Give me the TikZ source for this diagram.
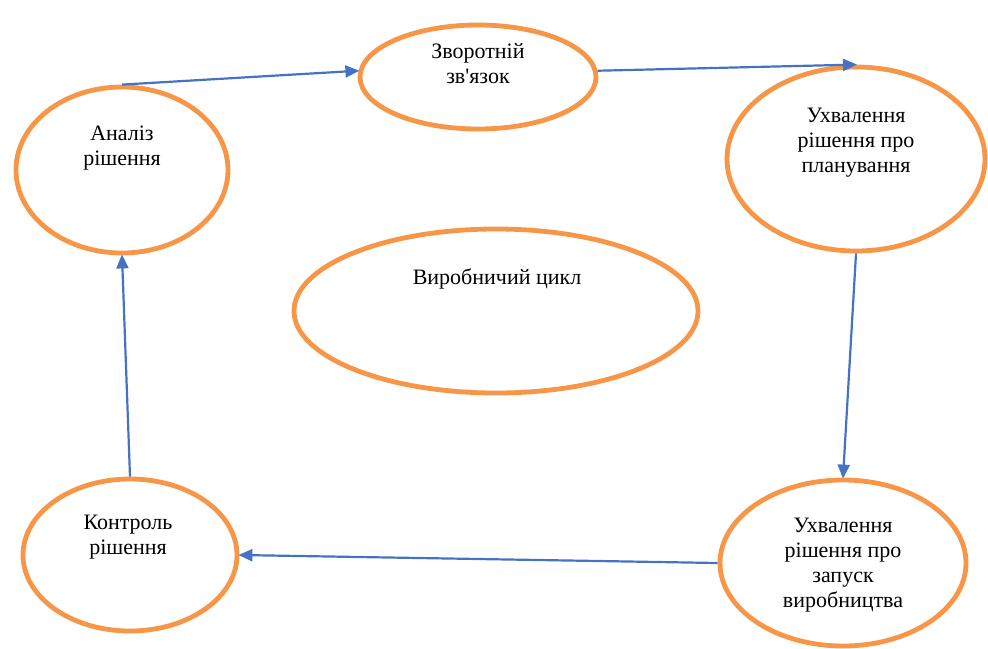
\documentclass[tikz,border=0pt]{standalone}
\usepackage{fontspec}
\setmainfont{Liberation Serif}[Ligatures=TeXOff]
\usepackage{tikz}
\usetikzlibrary{shapes.geometric, arrows.meta, positioning}
\definecolor{ovalcolor}{RGB}{247, 150, 70}
\definecolor{linkcolor}{RGB}{68, 114, 196}

\begin{document}
\begin{tikzpicture}[
    x=0.5pt, y=-0.5pt,
    oval/.style={ellipse, draw=ovalcolor, line width=2.4pt, fill=white, inner sep=0pt},
    txt/.style={align=center, font=\fontsize{11}{12.5}\selectfont, inner sep=0pt},
    link/.style={-{Triangle[width=6pt, length=7pt]}, draw=linkcolor, line width=1.1pt, shorten >=-0.5pt},
]
    \useasboundingbox (0,0) rectangle (988,648);
    % ovals
    \node[oval, minimum width=118pt, minimum height=52pt] (fb) at (478,77) {};
    \node[oval, minimum width=106pt, minimum height=83pt] (an) at (122,170) {};
    \node[oval, minimum width=129pt, minimum height=92pt] (pl) at (856,159) {};
    \node[oval, minimum width=202pt, minimum height=82pt] (vc) at (496,311) {};
    \node[oval, minimum width=107pt, minimum height=76pt] (ko) at (130,555) {};
    \node[oval, minimum width=123pt, minimum height=83pt] (zp) at (843,563) {};
    % texts
    \node[txt] (fbt) at (478,64) {Зворотній\\зв'язок};
    \node[txt] (ant) at (122,148) {Аналіз\\рішення};
    \node[txt] (plt) at (856,143) {Ухвалення\\рішення про\\планування};
    \node[txt] (vct) at (497,279) {Виробничий цикл};
    \node[txt] (kot) at (128,537) {Контроль\\рішення};
    \node[txt] (zpt) at (843,565) {Ухвалення\\рішення про\\запуск\\виробництва};
    % cycle
    \draw[link] (an.north) -- (fb.177);
    \draw[link] (fb.3) -- (pl.north);
    \draw[link] (pl.south) -- (zp.north);
    \draw[link] (zp.west) -- (ko.east);
    \draw[link] (ko.north) -- (an.south);
\end{tikzpicture}
\end{document}
